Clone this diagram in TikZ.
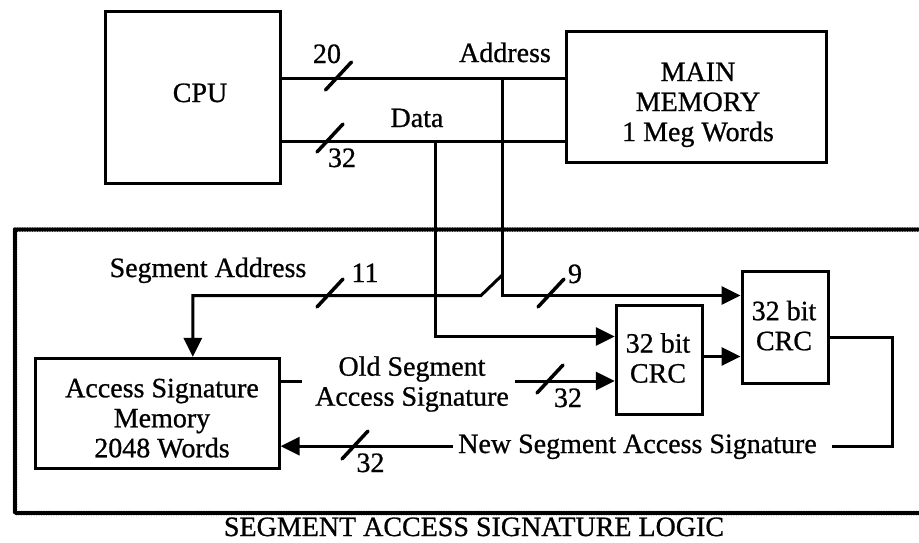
\documentclass[tikz,border=0pt]{standalone}
\usepackage{fontspec}
\setmainfont[FakeBold=0.8]{Liberation Serif}
\usetikzlibrary{arrows.meta}
\begin{document}
\begin{tikzpicture}[x=1pt,y=-1pt,
  every node/.style={font=\fontsize{28}{30}\selectfont, inner sep=0pt},
  box/.style={draw, line width=3pt},
  ln/.style={line width=3pt},
  arr/.style={-{Triangle[length=19pt,width=18pt]}},
  busslash/.pic={\draw[line width=3.5pt,line cap=round] (-13,14) -- (13,-14);},
  beads/.style={line width=4.5pt, line cap=round, dash pattern=on 0pt off 2.5pt}]
\useasboundingbox (0,0) rectangle (919,542);

% boxes
\node[box, minimum width=175.5pt, minimum height=172.3pt] (cpu) at (192.75,97.15) {};
\node[box, minimum width=260pt, minimum height=131.7pt] (mm) at (696.7,96.85) {};
\node[box, minimum width=243.7pt, minimum height=109.7pt] (asm) at (157.2,413.2) {};
\node[box, minimum width=86pt, minimum height=108.7pt] (crc1) at (659.3,360.3) {};
\node[box, minimum width=86pt, minimum height=111.6pt] (crc2) at (785,327.5) {};

% dotted enclosure
\draw[beads] (925,229.5) -- (15,229.5) -- (15,513) -- (925,513);

% coordinates
\coordinate (aj) at (502.8,78.8);
\coordinate (dj) at (435,141.5);
\coordinate (sj) at (502.8,274.5);
\coordinate (sk) at (481,295.5);
\coordinate (sc) at (192.8,295.5);
\coordinate (yd) at (0,336.5);
\coordinate (yc) at (0,356.5);
\coordinate (yo) at (0,337.3);
\coordinate (rx) at (892,446.2);
\coordinate (n1) at (832,446.2);
\coordinate (n2) at (453,446.2);
\coordinate (o1) at (302,381);
\coordinate (o2) at (515,381);

% buses
\draw[ln] (cpu.east |- aj) -- (mm.west |- aj);
\draw[ln] (cpu.east |- dj) -- (mm.west |- dj);
\draw[ln,arr] (aj) |- (crc2.west |- sc);
\draw[ln,arr] (sj) -- (sk) -- (sc) -- (asm.north -| sc);
\draw[ln,arr] (dj) |- (crc1.west |- yd);
\draw[ln,arr] (crc1.east |- yc) -- (crc2.west |- yc);
\draw[ln] (crc2.east |- yo) -| (rx) -- (n1);
\draw[ln,arr] (n2) -- (asm.east |- n2);
\draw[ln] (asm.east |- o1) -- (o1);
\draw[ln,arr] (o2) -- (crc1.west |- o2);

% bus width slashes
\pic at (338.5,76) {busslash};
\pic at (330,138) {busslash};
\pic at (330,293) {busslash};
\pic at (551,293) {busslash};
\pic at (550,379) {busslash};
\pic at (355,445) {busslash};

% texts
\node[anchor=base] (cpuT) at (200,102) {CPU};
\node[align=center] (mmT) at (698,104.8) {MAIN\\MEMORY\\1 Meg Words};
\node[anchor=base] (addrT) at (505,62) {Address};
\node[anchor=base] (dataT) at (417,127) {Data};
\node[anchor=base] (n20) at (327,63) {20};
\node[anchor=base] (n32a) at (342,167) {32};
\node[anchor=base] (segT) at (208,277) {Segment Address};
\node[anchor=base] (n11) at (365,282) {11};
\node[anchor=base] (n9) at (575,283) {9};
\node[align=center] (crc1T) at (658,358) {32 bit\\CRC};
\node[align=center] (crc2T) at (784,325.6) {32 bit\\CRC};
\node[align=center] (asmT) at (162,418.2) {Access Signature\\Memory\\2048 Words};
\node[align=center] (oldT) at (412,384) {Old Segment\\Access Signature};
\node[anchor=base] (n32b) at (568,407) {32};
\node[anchor=base] (newT) at (637.5,453) {New Segment Access Signature};
\node[anchor=base] (n32c) at (370.5,472) {32};
\node[anchor=base] (title) at (474,536) {SEGMENT ACCESS SIGNATURE LOGIC};
\end{tikzpicture}
\end{document}
